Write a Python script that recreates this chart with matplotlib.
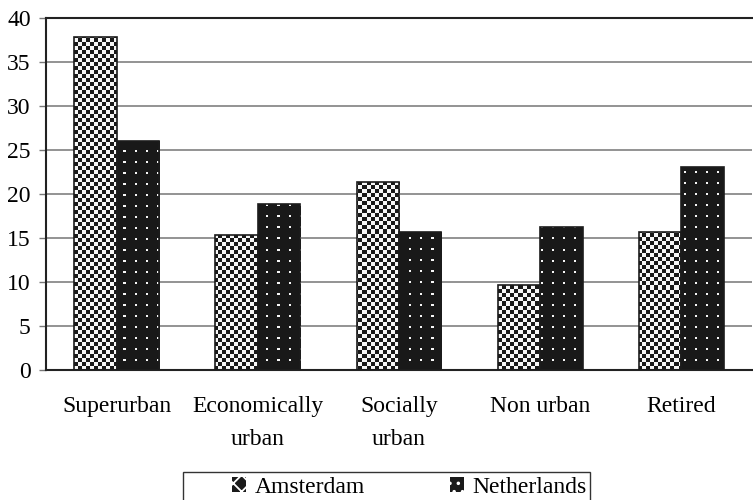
import numpy as np
import matplotlib
matplotlib.use('Agg')
import matplotlib.pyplot as plt
from matplotlib.patches import Rectangle, Patch

plt.rcParams['font.family'] = ['Liberation Serif', 'DejaVu Serif']
plt.rcParams['hatch.linewidth'] = 1.3

categories = ['Superurban', 'Economically\nurban', 'Socially\nurban', 'Non urban', 'Retired']
amsterdam = [37.8, 15.3, 21.4, 9.7, 15.7]
netherlands = [26.0, 18.9, 15.7, 16.3, 23.1]
series_names = ['Amsterdam', 'Netherlands']
yticks = [0, 5, 10, 15, 20, 25, 30, 35, 40]

W, H = 753, 500
FS = 17


def make_texture(kind, rows, cols):
    r = np.arange(rows)[:, None]
    c = np.arange(cols)[None, :]
    if kind == 'check':
        # small checkered pattern
        white = ((r // 4 + c // 4) % 2) == 0
    else:
        # black with small white dots
        white = ((r % 11) < 2) & ((c % 11) < 2)
    img = np.where(white, 0.97, 0.1)
    return np.dstack([img, img, img])


def textured_bars(ax, x, h, width, tex):
    bars = ax.bar(x, h, width, color='none', edgecolor='#1c1c1c', linewidth=1.2, zorder=3)
    xl, yl = ax.get_xlim(), ax.get_ylim()
    for b in bars:
        im = ax.imshow(tex, extent=(xl[0], xl[1], yl[0], yl[1]), origin='upper',
                       interpolation='nearest', aspect='auto', zorder=2)
        im.set_clip_path(b)
    return bars


fig = plt.figure(figsize=(W / 100, H / 100), dpi=100)
ax = fig.add_axes([46 / W, 130 / H, 706 / W, 352 / H])
ax.set_xlim(-0.5, len(categories) - 0.5)
ax.set_ylim(0, 40)

x = np.arange(len(categories))
w = 0.3
textured_bars(ax, x - w / 2, amsterdam, w, make_texture('check', 352, 706))
textured_bars(ax, x + w / 2, netherlands, w, make_texture('dots', 352, 706))
ax.set_xlim(-0.5, len(categories) - 0.5)
ax.set_ylim(0, 40)

ax.set_yticks(yticks)
ax.set_xticks(x)
ax.set_xticklabels(categories, fontsize=FS, linespacing=1.7, va='top')
ax.tick_params(axis='x', length=0, pad=19)
ax.tick_params(axis='y', direction='out', length=5, width=1, labelsize=FS, pad=6, color='#777777')
ax.yaxis.grid(True, color='#808080', linewidth=1.2, zorder=0)
ax.set_axisbelow(True)

for side in ['top', 'right']:
    ax.spines[side].set_visible(False)
for side in ['left', 'bottom']:
    ax.spines[side].set_linewidth(1.5)
    ax.spines[side].set_color('#222222')
ax.axhline(40, color='#222222', linewidth=1.5, zorder=4, clip_on=False)

# legend box (runs off the bottom of the picture)
fig.patches.append(Rectangle((183 / W, -0.05), (590 - 183) / W, 0.05 + 28 / H,
                             transform=fig.transFigure, fill=False,
                             edgecolor='#333333', linewidth=1.0))
handles = [Patch(facecolor='#1a1a1a', edgecolor='white', hatch='xx', linewidth=0),
           Patch(facecolor='#1a1a1a', edgecolor='white', hatch='..', linewidth=0)]
fig.legend(handles, series_names, loc='upper left', bbox_to_anchor=(232 / W, 23 / H),
           ncol=2, frameon=False, fontsize=FS, handlelength=0.6, handleheight=0.6,
           handletextpad=0.35, columnspacing=3.6, borderpad=0, borderaxespad=0)

fig.savefig('out.png', dpi=100)
